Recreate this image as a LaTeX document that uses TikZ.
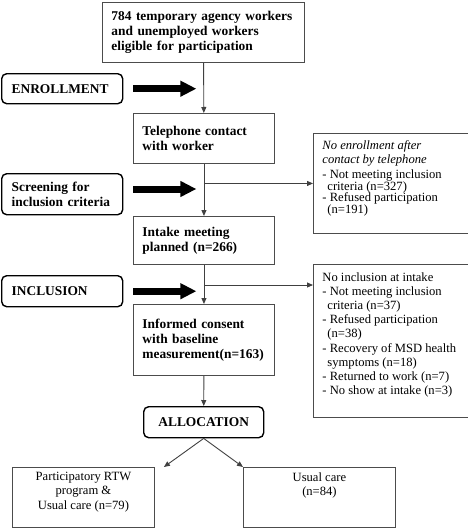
\documentclass[tikz,border=0pt]{standalone}
\usepackage{fontspec}
\setmainfont{Liberation Serif}
\usetikzlibrary{positioning, arrows.meta}
\tikzset{
>={Triangle[length=6pt,width=5pt]}, % small filled heads on the thin lines
box/.style={draw=black!70, line width=0.9pt, anchor=north west, inner xsep=9pt, align=left, font=\fontsize{13.4}{15}\selectfont\bfseries}, % flow boxes
stage/.style={draw, line width=1.4pt, rounded corners=5pt, anchor=north west, inner xsep=10pt, align=left, font=\fontsize{13.4}{15}\selectfont\bfseries}, % phase labels
note/.style={draw=black!70, line width=0.9pt, anchor=north west, inner xsep=9pt, font=\fontsize{12.6}{14.2}\selectfont}, % side notes and arms
link/.style={->, draw=black!75, line width=0.9pt},
fat/.style={line width=7pt, -{Triangle[length=16pt,width=15pt]}}, % big black arrows
}

\begin{document}
\begin{tikzpicture}[x=1pt, y=-1pt]
\useasboundingbox (0,0) rectangle (468,528);

% main column
\node[box, text width=184pt, minimum height=60pt] (eligible) at (102,2) {784 temporary agency workers\\and unemployed workers\\eligible for participation};
\node[box, text width=123pt, minimum height=50pt] (phone) at (133,113) {Telephone contact\\with worker};
\node[box, text width=123pt, minimum height=48pt] (intake) at (133,216) {Intake meeting\\planned (n=266)};
\node[box, text width=123pt, minimum height=71pt] (consent) at (133,304) {Informed consent\\with baseline\\measurement(n=163)};
\node[stage, minimum width=120pt, minimum height=31pt, align=center, inner xsep=0pt] (alloc) at (143,406) {ALLOCATION};

% phase labels
\node[stage, text width=101pt, minimum height=30pt] (enroll) at (1,73) {ENROLLMENT};
\node[stage, text width=101pt, minimum height=41pt] (screen) at (1,173) {Screening for\\inclusion criteria};
\node[stage, text width=101pt, minimum height=31pt] (incl) at (1,275) {INCLUSION};

% side notes
\node[note, inner ysep=7pt] (noenrol) at (313,133) {\parbox[t][86pt][t]{137pt}{\itshape No enrollment after\\contact by telephone\par\vspace{3.5pt}\upshape\fontsize{12.6}{11.6}\selectfont
- Not meeting inclusion\\\hspace*{5pt}criteria (n=327)\\- Refused participation\\\hspace*{5pt}(n=191)}};
\node[note, inner ysep=8pt] (noincl) at (313,264) {\parbox[t][137pt][t]{137pt}{No inclusion at intake\\- Not meeting inclusion\\\hspace*{5pt}criteria (n=37)\\- Refused participation\\\hspace*{5pt}(n=38)\\- Recovery of MSD health\\\hspace*{5pt}symptoms (n=18)\\- Returned to work (n=7)\\- No show at intake (n=3)}};

% study arms
\node[note, inner xsep=0pt, inner ysep=5pt] (rtw) at (12,467) {\parbox[t][50pt][t]{142pt}{\centering Participatory RTW\\program \&\\Usual care (n=79)}};
\node[note, inner xsep=0pt, inner ysep=5pt] (usual) at (243,467) {\parbox[t][50pt][t]{152pt}{\centering Usual care\\(n=84)}};

\coordinate (split) at (phone.south |- 0,285);

\draw[link] (eligible) -- (phone);
\draw[link] (phone) -- (intake);
\draw[link] (intake) -- (consent);
\draw[link] (consent) -- (alloc);
\draw[link] (phone.south |- noenrol.west) -- (noenrol.west);
\draw[link] (split) -- (split -| noincl.west);
\draw[link] (alloc.south) -- ([xshift=9pt]rtw.north east);
\draw[link] (alloc.south) -- (usual.north west);

\draw[fat] ([xshift=10pt]enroll.east) -- ++(63,0);
\draw[fat] ([xshift=10pt]screen.east |- 0,189) -- ++(63,0);
\draw[fat] ([xshift=10pt]incl.east) -- ++(63,0);
\end{tikzpicture}
\end{document}
